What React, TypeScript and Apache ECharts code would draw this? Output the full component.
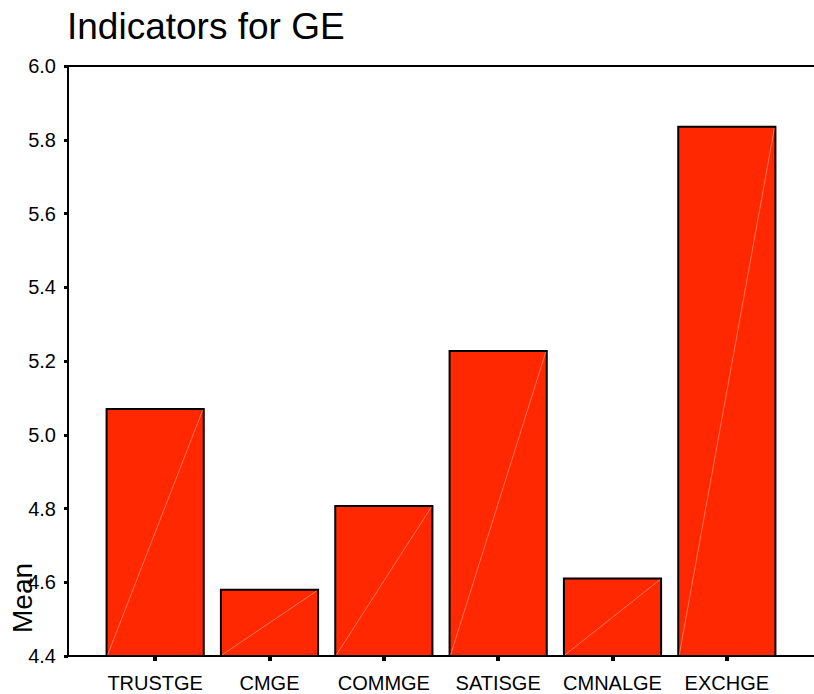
import React, { useEffect, useRef } from "react";
import * as echarts from "echarts";

const categories = ["TRUSTGE", "CMGE", "COMMGE", "SATISGE", "CMNALGE", "EXCHGE"];
const means = [5.07, 4.58, 4.807, 5.227, 4.61, 5.835];
const yMin = 4.4;
const yMax = 6.0;
const yStep = 0.2;

const FONT = "'Liberation Sans', Arial, sans-serif";

export default function App() {
  const ref = useRef<HTMLDivElement>(null);
  useEffect(() => {
    if (!ref.current) return;
    const chart = echarts.init(ref.current, null, { renderer: "svg" });
    const option: any = {
      animation: false,
      backgroundColor: "#ffffff",
      title: {
        text: "Indicators for GE",
        left: 67,
        top: 8,
        padding: 0,
        textStyle: { fontFamily: FONT, fontSize: 37, fontWeight: "normal", color: "#000" },
      },
      grid: { left: 98, right: 30, top: 66, bottom: 38, containLabel: false },
      xAxis: {
        type: "category",
        data: categories,
        axisLine: { show: false },
        axisTick: { show: true, alignWithLabel: true, length: 5, lineStyle: { color: "#000", width: 4 } },
        axisLabel: { fontFamily: FONT, fontSize: 20, color: "#000", margin: 17, interval: 0 },
      },
      yAxis: {
        type: "value",
        min: yMin,
        max: yMax,
        interval: yStep,
        offset: 30,
        axisLine: { show: true, lineStyle: { color: "#000", width: 2 } },
        axisTick: { show: true, length: 4, lineStyle: { color: "#000", width: 3 } },
        axisLabel: {
          fontFamily: FONT,
          fontSize: 20,
          color: "#000",
          margin: 12,
          formatter: (v: number) => v.toFixed(1),
        },
        splitLine: { show: false },
      },
      graphic: [
        {
          type: "line",
          shape: { x1: 67, y1: 66, x2: 814, y2: 66 },
          style: { stroke: "#000", lineWidth: 2 },
          z: 10,
        },
        {
          type: "line",
          shape: { x1: 67, y1: 656, x2: 814, y2: 656 },
          style: { stroke: "#000", lineWidth: 2 },
          z: 10,
        },
        {
          type: "text",
          x: 22,
          y: 598,
          rotation: Math.PI / 2,
          style: {
            text: "Mean",
            fontFamily: FONT,
            fontSize: 28,
            fill: "#000",
            align: "center",
            verticalAlign: "middle",
          },
          z: 10,
        },
      ],
      series: [
        {
          type: "custom",
          data: means.map((v, i) => [i, v]),
          encode: { x: 0, y: 1 },
          renderItem: (params: any, api: any) => {
            const idx = api.value(0);
            const val = api.value(1);
            const top = api.coord([idx, val]);
            const base = api.coord([idx, yMin]);
            const bw = api.size([1, 0])[0] * 0.85;
            const x0 = top[0] - bw / 2;
            const h = base[1] - top[1];
            return {
              type: "group",
              children: [
                {
                  type: "rect",
                  shape: { x: x0, y: top[1], width: bw, height: h },
                  style: { fill: "#ff2800", stroke: "#000", lineWidth: 2 },
                },
                {
                  type: "line",
                  shape: { x1: x0 + 1, y1: base[1] - 1, x2: x0 + bw - 1, y2: top[1] + 1 },
                  style: { stroke: "rgba(255,255,255,0.35)", lineWidth: 1 },
                },
              ],
            };
          },
        },
      ],
    };
    chart.setOption(option);
    return () => chart.dispose();
  }, []);
  return (
    <div
      ref={ref}
      style={{ position: "fixed", left: 0, top: 0, width: 814, height: 694 }}
    />
  );
}
